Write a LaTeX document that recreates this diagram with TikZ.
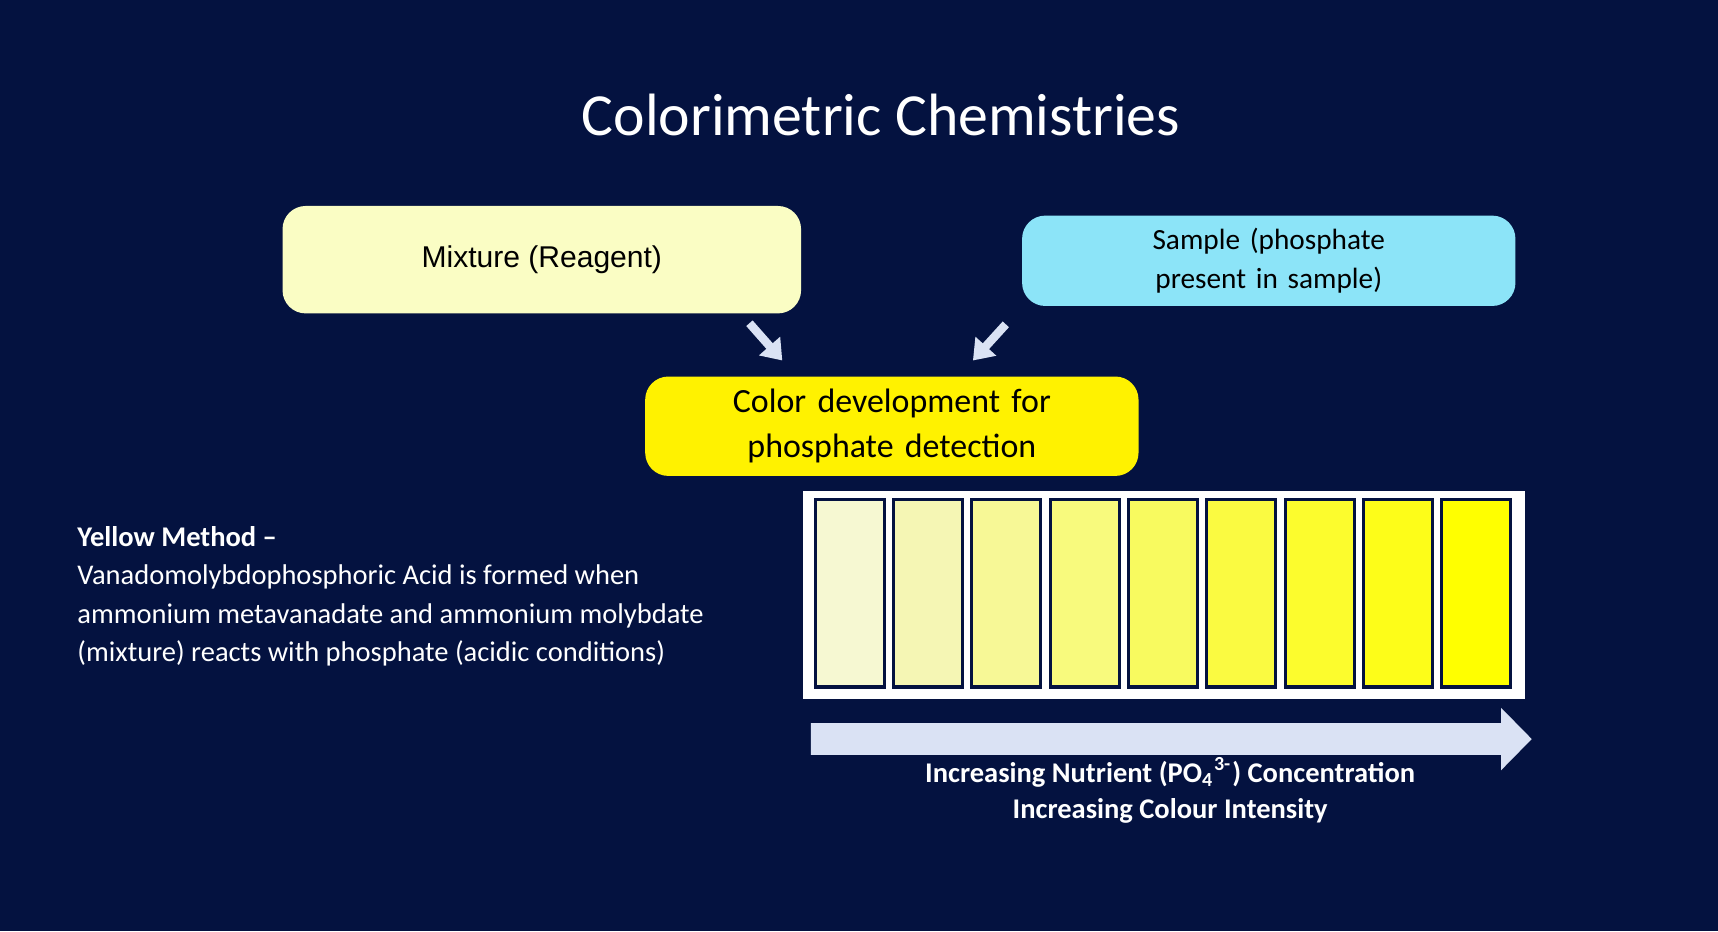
\documentclass[tikz,border=0pt]{standalone}
\usepackage{fontspec}
\usetikzlibrary{arrows.meta}
\setmainfont{Carlito}
\newfontfamily\arialf{Liberation Sans}
\definecolor{bg}{RGB}{4,18,64}
\definecolor{mixc}{RGB}{250,253,196}
\definecolor{samc}{RGB}{140,228,248}
\definecolor{arrc}{RGB}{218,226,244}
\begin{document}
\begin{tikzpicture}[x=0.01cm,y=-0.01cm,
  box/.style={rounded corners=6pt,anchor=center,align=center,text=black},
  strip/.style={draw=bg,line width=0.8pt},
  lbl/.style={text=white,font=\bfseries\fontsize{7.4}{9}\selectfont}]
\fill[bg] (0,0) rectangle (1568,850);
\useasboundingbox (0,0) rectangle (1568,850);
\node[text=white,font=\fontsize{15.5}{18}\selectfont] (title) at (804,105) {Colorimetric Chemistries};
\node[box,fill=mixc,minimum width=4.73cm,minimum height=0.98cm,font=\arialf\fontsize{7.8}{9}\selectfont] (mix) at (494.5,237) {Mixture (Reagent)};
\node[box,fill=samc,minimum width=4.5cm,minimum height=0.82cm,text width=4.2cm,font=\fontsize{7.6}{10}\selectfont] (sam) at (1158,238) {Sample (phosphate present in sample)};
\node[box,fill=yellow,minimum width=4.5cm,minimum height=0.82cm,text width=4.2cm,font=\fontsize{8.8}{11.6}\selectfont] (col) at (814,389) {Color development for phosphate detection};
\coordinate (a1) at (684,295); \coordinate (a2) at (714,329);
\coordinate (b1) at (918,296); \coordinate (b2) at (888,329);
\draw[arrc,line width=2.2pt,-{Triangle[width=7pt,length=5pt]}] (a1) -- (a2);
\draw[arrc,line width=2.2pt,-{Triangle[width=7pt,length=5pt]}] (b1) -- (b2);
\node[fill=white,minimum width=6.59cm,minimum height=1.9cm,inner sep=0pt] (panel) at (1062.5,543) {};
\foreach \i/\c in {0/{246,248,210},1/{245,246,180},2/{247,248,150},3/{248,250,125},4/{248,250,95},5/{250,250,65},6/{252,252,45},7/{253,253,25},8/{255,255,0}}{
  \definecolor{sc}{RGB}{\c}
  \fill[sc] (744+71.5*\i,456) rectangle ++(63,171);
  \draw[strip] (744+71.5*\i,456) rectangle ++(63,171);
}
\fill[arrc] (740,660) -- (1370,660) -- (1370,646) -- (1398,674.5) -- (1370,703) -- (1370,689) -- (740,689) -- cycle;
\node[lbl] (l1) at (1068,705) {Increasing Nutrient (PO\textsubscript{4}\textsuperscript{3-}) Concentration};
\node[lbl] (l2) at (1068,740) {Increasing Colour Intensity};
\node[anchor=north west,text=white,align=left,inner sep=0pt,font=\fontsize{7.4}{9.92}\selectfont] (yt) at (70,480) {\textbf{Yellow Method –}\\Vanadomolybdophosphoric Acid is formed when\\ammonium metavanadate and ammonium molybdate\\(mixture) reacts with phosphate (acidic conditions)};
\end{tikzpicture}
\end{document}
